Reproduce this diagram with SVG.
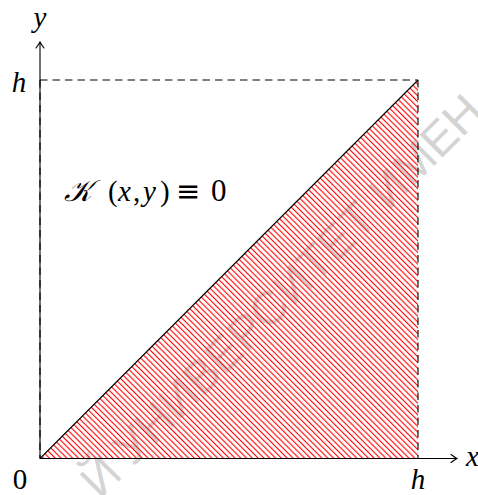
<svg xmlns="http://www.w3.org/2000/svg" width="478" height="495" viewBox="0 0 478 495">
  <style>
    .lbl { font-family: "Liberation Serif", "DejaVu Serif", serif; font-style: italic; font-size: 29px; fill: #000; }
    .num { font-family: "Liberation Serif", "DejaVu Serif", serif; font-size: 29px; fill: #000; }
    .wm { font-family: "Liberation Sans", "DejaVu Sans", sans-serif; font-size: 47px; fill: #d4d4d4; }
    .axis { stroke: #000; stroke-width: 1.1; fill: none; }
    .dash { stroke: #000; stroke-width: 1.1; fill: none; stroke-dasharray: 7.5 5; }
    .arrow { stroke: #000; stroke-width: 1.1; fill: none; stroke-linecap: round; }
    .m { font-family: "Liberation Serif", "DejaVu Serif", serif; font-size: 29px; fill: #000; }
    .mi { font-style: italic; }
  </style>
  <defs>
    <pattern id="hatch" patternUnits="userSpaceOnUse" width="4.1" height="4.1" patternTransform="rotate(45)">
      <line x1="0" y1="2" x2="4.1" y2="2" stroke="#ff0000" stroke-width="1.1"/>
    </pattern>
  </defs>
  <rect width="478" height="495" fill="#fff"/>
  <g id="watermark">
    <text class="wm" x="0" y="0" transform="translate(100,500) rotate(-45)">Й УНИВЕРСИТЕТ ИМЕН</text>
  </g>
  <g id="region">
    <polygon points="40,458.5 418,80 418,458.5" fill="url(#hatch)"/>
  </g>
  <g id="connectors">
    <line class="axis" x1="40" y1="458.5" x2="457" y2="458.5"/>
    <path class="arrow" d="M451,454.5 Q455,457.5 457,458.5 Q455,459.5 451,462.5"/>
    <line class="axis" x1="40" y1="458.5" x2="40" y2="42"/>
    <path class="arrow" d="M36,48 Q39,44 40,42 Q41,44 44,48"/>
    <line class="axis" x1="40" y1="458.5" x2="418" y2="80" stroke="#333"/>
    <line class="dash" x1="40" y1="80" x2="418" y2="80"/>
    <line class="dash" x1="418" y1="80" x2="418" y2="458.5"/>
    <line class="dash" x1="40" y1="80" x2="40" y2="458.5"/>
  </g>
  <g id="labels">
    <text class="lbl" x="40" y="27" text-anchor="middle">y</text>
    <text class="lbl" x="19" y="92" text-anchor="middle">h</text>
    <text class="num" x="20" y="489" text-anchor="middle">0</text>
    <text class="lbl" x="418" y="489" text-anchor="middle">h</text>
    <text class="lbl" x="466" y="466">x</text>
  </g>
  <g id="formula">
    <text class="m mi" x="64" y="201" style="font-family:'DejaVu Serif',serif;font-size:30px">𝒦</text>
    <text class="m" x="108" y="201">(</text>
    <text class="m mi" x="118" y="201">x</text>
    <text class="m" x="133" y="201">,</text>
    <text class="m mi" x="143" y="201">y</text>
    <text class="m" x="160" y="201">)</text>
    <text class="m" x="176" y="201" style="font-family:'DejaVu Sans',sans-serif;font-size:29px">≡</text>
    <text class="m" x="211" y="201" style="font-size:31px">0</text>
  </g>
</svg>
